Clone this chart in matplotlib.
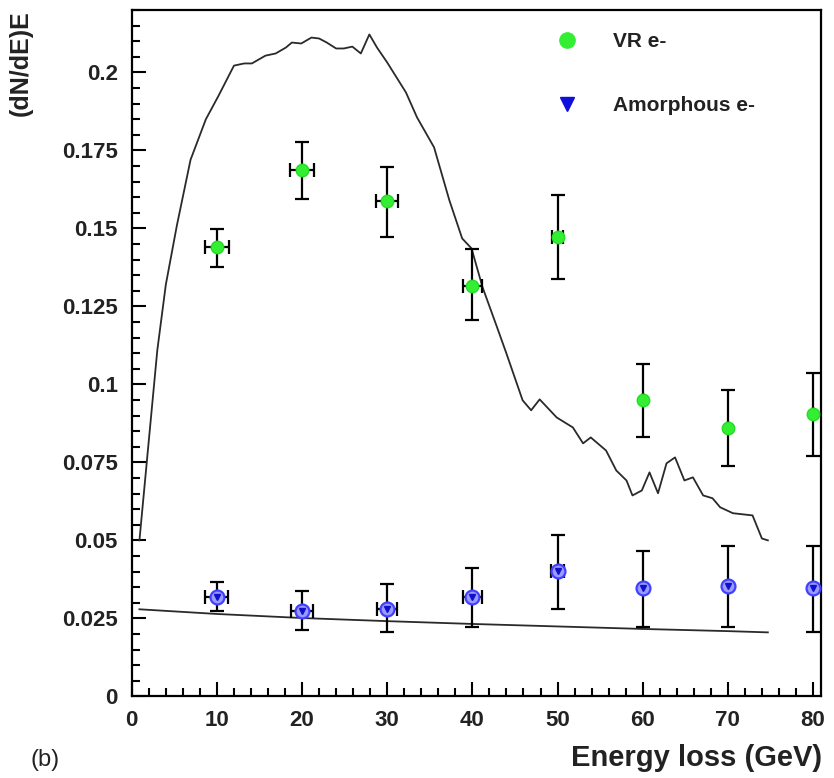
import numpy as np
import matplotlib
matplotlib.use('Agg')
import matplotlib.pyplot as plt
from matplotlib.lines import Line2D
from matplotlib.ticker import MultipleLocator

plt.rcParams['font.family'] = ['Liberation Sans', 'DejaVu Sans']

# measured points
energy = [10, 20, 30, 40, 50, 60, 70, 80]
vr_y = [0.1439, 0.1686, 0.1587, 0.1314, 0.1471, 0.0949, 0.0859, 0.0904]
vr_lo = [0.1378, 0.1596, 0.1474, 0.1205, 0.1337, 0.0830, 0.0737, 0.0769]
vr_hi = [0.1497, 0.1776, 0.1696, 0.1433, 0.1606, 0.1064, 0.0981, 0.1038]
vr_xerr = [1.4, 1.4, 1.3, 1.1, 0.7, 0, 0, 0]

am_y = [0.0317, 0.0272, 0.0279, 0.0317, 0.0401, 0.0346, 0.0353, 0.0346]
am_lo = [0.0272, 0.0212, 0.0205, 0.0221, 0.0279, 0.0221, 0.0221, 0.0205]
am_hi = [0.0365, 0.0337, 0.0359, 0.0410, 0.0516, 0.0465, 0.0481, 0.0481]
am_xerr = [1.35, 1.3, 1.15, 1.1, 0.8, 0, 0, 0]

# simulation curves
sim_vr_x = [0.9, 2.0, 3.0, 4.0, 5.3, 6.9, 8.7, 10.2, 12.0, 13.2, 14.1, 15.7, 16.9,
            18.1, 18.8, 19.9, 21.1, 22.0, 22.9, 24.0, 24.9, 25.9, 26.9, 27.9,
            28.8, 30.0, 31.1, 32.2, 33.5, 35.5, 37.3, 38.8, 39.9, 41.2, 42.9,
            44.0, 45.9, 46.9, 47.9, 49.9, 51.8, 53.0, 53.9, 55.7, 56.9, 58.1,
            58.8, 59.9, 60.8, 61.8, 62.8, 63.8, 64.9, 65.9, 67.1, 68.2, 69.1,
            70.6, 72.9, 74.0, 74.7]
sim_vr_y = [0.050, 0.082, 0.111, 0.132, 0.1510, 0.172, 0.1850, 0.1926, 0.2022,
            0.2029, 0.2029, 0.2054, 0.2061, 0.2080, 0.2096, 0.2093, 0.2112,
            0.2109, 0.2096, 0.2077, 0.2077, 0.2083, 0.2061, 0.2122, 0.2080,
            0.2032, 0.1984, 0.1936, 0.1856, 0.1760, 0.1590, 0.1468, 0.1436,
            0.1311, 0.1183, 0.1099, 0.0949, 0.0917, 0.0952, 0.0894, 0.0862,
            0.0811, 0.0830, 0.0788, 0.0724, 0.0692, 0.0644, 0.0660, 0.0718,
            0.0651, 0.0747, 0.0766, 0.0692, 0.0702, 0.0644, 0.0635, 0.0606,
            0.0587, 0.0580, 0.0506, 0.0500]

sim_am_x = [0.9, 10, 20, 30, 40, 50, 60, 70, 74.7]
sim_am_y = [0.0279, 0.0264, 0.0251, 0.0241, 0.0232, 0.0224, 0.0216, 0.0209, 0.0205]

fig = plt.figure(figsize=(8.34, 7.78), dpi=100)
ax = fig.add_axes([0.158, 0.105, 0.826, 0.882])

ax.plot(sim_vr_x, sim_vr_y, color='#2a2a2a', lw=1.3)
ax.plot(sim_am_x, sim_am_y, color='#2a2a2a', lw=1.3)

vr_yerr = [np.array(vr_y) - np.array(vr_lo), np.array(vr_hi) - np.array(vr_y)]
ax.errorbar(energy, vr_y, yerr=vr_yerr, xerr=vr_xerr, fmt='o', color='#33ee33',
            ms=9, mec='#22dd22', ecolor='black', elinewidth=1.6, capsize=4.7,
            capthick=1.6, zorder=3)

am_yerr = [np.array(am_y) - np.array(am_lo), np.array(am_hi) - np.array(am_y)]
ax.errorbar(energy, am_y, yerr=am_yerr, xerr=am_xerr, fmt='o', mfc='#9a9aff',
            mec='#4040ff', mew=1.6, ms=10, ecolor='black', elinewidth=1.6,
            capsize=4.7, capthick=1.6, zorder=3)
ax.plot(energy, am_y, 'v', color='#1010cc', ms=5, zorder=4)

ax.set_xlim(0, 80.9)
ax.set_ylim(0, 0.22)
ax.xaxis.set_major_locator(MultipleLocator(10))
ax.xaxis.set_minor_locator(MultipleLocator(2))
ax.yaxis.set_minor_locator(MultipleLocator(0.005))
ax.set_yticks([0, 0.025, 0.05, 0.075, 0.1, 0.125, 0.15, 0.175, 0.2])
ax.set_yticklabels(['0', '0.025', '0.05', '0.075', '0.1', '0.125', '0.15', '0.175', '0.2'])
ax.tick_params(which='both', direction='in', top=False, right=False, width=1.5,
               labelsize=16, pad=10)
ax.tick_params(which='major', length=10)
ax.tick_params(which='minor', length=6)
for lab in ax.get_xticklabels() + ax.get_yticklabels():
    lab.set_fontweight('bold')
    lab.set_color('#222222')
for sp in ax.spines.values():
    sp.set_linewidth(1.6)

handles = [Line2D([], [], ls='none', marker='o', color='#33ee33', ms=11),
           Line2D([], [], ls='none', marker='v', color='#1010dd', ms=10)]
leg = ax.legend(handles, ['VR e-', 'Amorphous e-'], loc='upper left',
                bbox_to_anchor=(0.575, 0.995), frameon=False, labelspacing=2.15,
                handletextpad=1.2, prop={'weight': 'bold', 'size': 15})
for t in leg.get_texts():
    t.set_color('#222222')

fig.text(0.986, 0.016, 'Energy loss (GeV)', ha='right', va='baseline',
         fontsize=21, fontweight='bold', color='#222222')
fig.text(0.010, 0.987, '(dN/dE)E', ha='left', va='top', rotation=90,
         fontsize=18, fontweight='bold', color='#222222')
fig.text(0.036, 0.016, '(b)', ha='left', va='baseline', fontsize=17,
         color='#222222')

fig.savefig('out.png', dpi=100)
